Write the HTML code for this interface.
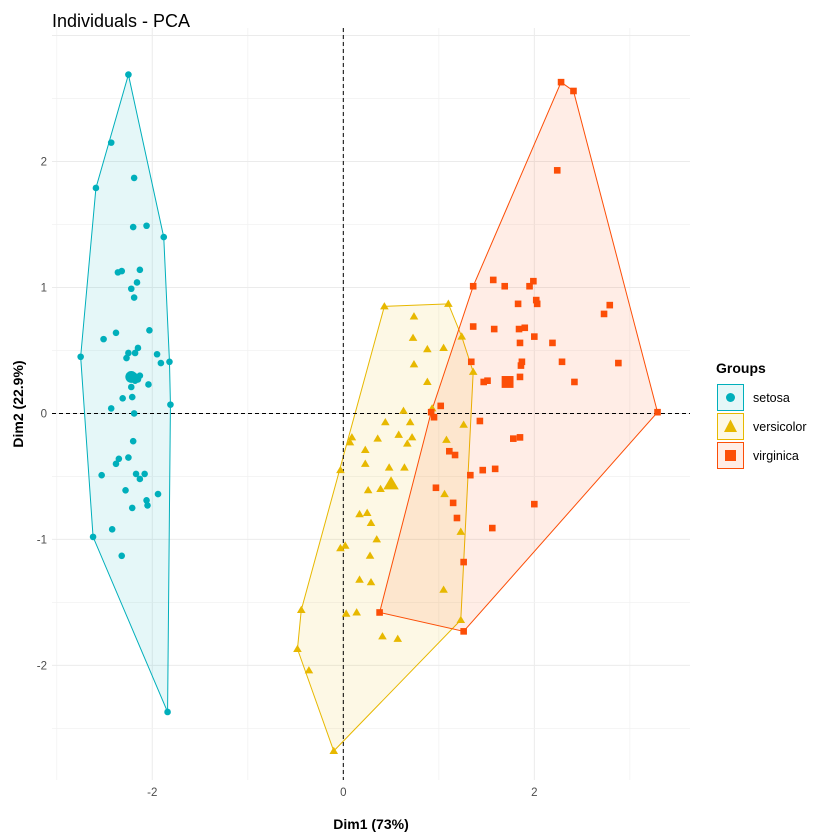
<!DOCTYPE html>
<html><head><meta charset="utf-8"><style>
body{margin:0;background:#fff;}
svg{display:block;font-family:"Liberation Sans",Arial,sans-serif;}
</style></head><body>
<svg id="chart" width="840" height="840" viewBox="0 0 840 840" xmlns="http://www.w3.org/2000/svg">
<text x="52" y="27" font-size="18" fill="#000">Individuals - PCA</text>
<g id="grid"></g>
<g id="hulls"></g>
<g id="refs"></g>
<g id="points"></g>
<g id="axes"></g>
<text x="371" y="829" font-size="14" font-weight="bold" text-anchor="middle">Dim1 (73%)</text>
<text transform="translate(23,404) rotate(-90)" font-size="14" font-weight="bold" text-anchor="middle">Dim2 (22.9%)</text>
<g>
<text x="716" y="373" font-size="14" font-weight="bold">Groups</text>
<g>
<rect x="717.5" y="384.5" width="26" height="26" fill="#00AFBB" fill-opacity="0.1" stroke="#00AFBB"/>
<circle cx="730.5" cy="397.5" r="4.5" fill="#00AFBB"/>
<text x="753" y="402" font-size="12.5" fill="#000">setosa</text></g>
<g>
<rect x="717.5" y="413.5" width="26" height="26" fill="#E7B800" fill-opacity="0.1" stroke="#E7B800"/>
<polygon points="730.5,419.5 737,432 724,432" fill="#E7B800"/>
<text x="753" y="431" font-size="12.5" fill="#000">versicolor</text></g>
<g>
<rect x="717.5" y="442.5" width="26" height="26" fill="#FC4E07" fill-opacity="0.1" stroke="#FC4E07"/>
<rect x="725" y="450" width="11" height="11" fill="#FC4E07"/>
<text x="753" y="460" font-size="12.5" fill="#000">virginica</text></g>
</g>
</svg>
<script>
const setosaX=[-2.25,-2.43,-2.19,-2.59,-2.20,-2.06,-1.88,-2.36,-2.32,-2.13,-2.16,-2.22,-2.19,-2.38,-2.51,-2.03,-2.75,-2.25,-2.27,-2.15,-2.18,-1.95,-1.91,-1.82,-2.23,-2.19,-2.15,-2.13,-2.18,-2.22,-2.04,-2.31,-2.21,-2.43,-1.81,-2.19,-2.20,-2.38,-2.35,-2.25,-2.53,-2.17,-2.13,-2.08,-2.28,-1.94,-2.06,-2.05,-2.21,-2.42,-2.62,-2.32,-1.84];
const setosaY=[2.69,2.15,1.87,1.79,1.48,1.49,1.40,1.12,1.13,1.14,1.04,0.99,0.92,0.64,0.59,0.66,0.45,0.48,0.44,0.52,0.48,0.47,0.40,0.41,0.29,0.30,0.27,0.30,0.26,0.21,0.23,0.12,0.13,0.04,0.07,0.00,-0.22,-0.40,-0.36,-0.35,-0.49,-0.48,-0.52,-0.48,-0.61,-0.64,-0.69,-0.73,-0.75,-0.92,-0.98,-1.13,-2.37];
const versiX=[0.43,1.10,0.74,0.73,0.88,1.05,1.24,0.74,1.36,0.88,0.63,0.93,0.44,0.70,1.26,0.09,0.07,0.36,0.58,0.72,0.67,1.08,0.23,0.23,0.48,0.64,-0.03,0.26,0.39,1.06,0.17,0.25,0.29,0.35,-0.03,0.02,0.28,1.23,0.17,0.29,1.05,-0.44,0.03,0.14,1.23,0.41,0.57,-0.48,-0.36,-0.10];
const versiY=[0.85,0.87,0.77,0.60,0.51,0.52,0.61,0.39,0.33,0.25,0.02,0.04,-0.07,-0.07,-0.09,-0.19,-0.23,-0.20,-0.17,-0.19,-0.24,-0.21,-0.29,-0.40,-0.43,-0.43,-0.45,-0.61,-0.60,-0.64,-0.80,-0.79,-0.87,-1.00,-1.07,-1.05,-1.13,-0.94,-1.32,-1.34,-1.40,-1.56,-1.59,-1.58,-1.64,-1.77,-1.79,-1.87,-2.04,-2.68];
const virgX=[2.28,2.41,2.24,1.57,1.36,1.69,1.95,1.99,1.83,2.02,2.03,2.79,2.73,1.36,1.58,1.84,1.90,2.00,1.85,2.19,1.34,1.87,1.86,2.29,2.88,1.47,1.51,1.85,2.42,1.02,0.92,0.95,3.29,1.43,1.78,1.85,1.11,1.17,1.59,1.46,1.33,0.97,1.15,2.00,1.19,1.56,1.26,1.26,0.38];
const virgY=[2.63,2.56,1.93,1.06,1.01,1.01,1.01,1.05,0.87,0.90,0.87,0.86,0.79,0.69,0.67,0.67,0.68,0.61,0.56,0.56,0.41,0.41,0.38,0.41,0.40,0.25,0.26,0.29,0.25,0.06,0.01,-0.03,0.01,-0.06,-0.20,-0.19,-0.30,-0.33,-0.44,-0.45,-0.49,-0.59,-0.71,-0.72,-0.83,-0.91,-1.18,-1.73,-1.58];
const centroidX=[-2.22,0.50,1.72];
const centroidY=[0.29,-0.56,0.25];
const groupNames=["setosa","versicolor","virginica"];
const xTicks=[-2,0,2];
const yTicks=[-2,-1,0,1,2];

const NS="http://www.w3.org/2000/svg";
const X0=52,X1=690,Y0=28,Y1=780;
const xMin=-3.05,xMax=3.63,yMin=-2.91,yMax=3.06;
const sx=v=>X0+(v-xMin)/(xMax-xMin)*(X1-X0);
const sy=v=>Y1-(v-yMin)/(yMax-yMin)*(Y1-Y0);
const colors=["#00AFBB","#E7B800","#FC4E07"];
function mk(tag,attrs,parent){const e=document.createElementNS(NS,tag);for(const k in attrs)e.setAttribute(k,attrs[k]);parent.appendChild(e);return e;}
const grid=document.getElementById('grid');
for(let v=-3;v<=3.5;v+=0.5){
  const major=Number.isInteger(v)&&v%2===0;const mid=Number.isInteger(v);
  if(!mid)continue;
  const l=mk('line',{x1:sx(v),x2:sx(v),y1:Y0,y2:Y1,stroke:major?'#ebebeb':'#f2f2f2','stroke-width':major?1:0.8},grid);
  
  
}
for(let v=-2.5;v<=3;v+=0.5){
  const major=Number.isInteger(v);
  const l=mk('line',{x1:X0,x2:X1,y1:sy(v),y2:sy(v),stroke:major?'#ebebeb':'#f2f2f2','stroke-width':major?1:0.8},grid);
  
  
}
const axes=document.getElementById('axes');
xTicks.forEach(t=>{const e=mk('text',{x:sx(t),y:Y1+16,'font-size':11.5,fill:'#4d4d4d','text-anchor':'middle'},axes);e.textContent=String(t).replace('-','\u2212').replace('\u2212','-');
  
  });
yTicks.forEach(t=>{const e=mk('text',{x:X0-5,y:sy(t)+4,'font-size':11.5,fill:'#4d4d4d','text-anchor':'end'},axes);e.textContent=String(t);
  
  });
const refs=document.getElementById('refs');
const vl=mk('line',{x1:sx(0),x2:sx(0),y1:Y0,y2:Y1,stroke:'#000','stroke-dasharray':'4,3','stroke-width':1},refs);


const hl=mk('line',{x1:X0,x2:X1,y1:sy(0),y2:sy(0),stroke:'#000','stroke-dasharray':'4,3','stroke-width':1},refs);


function hull(pts){pts=pts.slice().sort((a,b)=>a[0]-b[0]||a[1]-b[1]);const cr=(o,a,b)=>(a[0]-o[0])*(b[1]-o[1])-(a[1]-o[1])*(b[0]-o[0]);
  const lo=[],up=[];for(const p of pts){while(lo.length>=2&&cr(lo[lo.length-2],lo[lo.length-1],p)<=0)lo.pop();lo.push(p);}
  for(let i=pts.length-1;i>=0;i--){const p=pts[i];while(up.length>=2&&cr(up[up.length-2],up[up.length-1],p)<=0)up.pop();up.push(p);}
  up.pop();lo.pop();return lo.concat(up);}
const groups=[[setosaX,setosaY],[versiX,versiY],[virgX,virgY]];
const hg=document.getElementById('hulls'),pg=document.getElementById('points');
groups.forEach((g,gi)=>{
  const pts=g[0].map((x,i)=>[sx(x),sy(g[1][i])]);
  const h=hull(pts);
  const poly=mk('polygon',{points:h.map(p=>p.join(',')).join(' '),fill:colors[gi],'fill-opacity':0.1,stroke:colors[gi],'stroke-width':1},hg);
  
  
});
function marker(gi,x,y,s,parent){let e;
  if(gi===0)e=mk('circle',{cx:x,cy:y,r:3.3*s,fill:colors[0]},parent);
  else if(gi===1)e=mk('polygon',{points:`${x},${y-4.3*s} ${x+4.3*s},${y+3*s} ${x-4.3*s},${y+3*s}`,fill:colors[1]},parent);
  else e=mk('rect',{x:x-3.3*s,y:y-3.3*s,width:6.6*s,height:6.6*s,fill:colors[2]},parent);
  return e;}
groups.forEach((g,gi)=>{g[0].forEach((x,i)=>{const e=marker(gi,sx(x),sy(g[1][i]),1,pg);
  
  });});
centroidX.forEach((x,i)=>{const e=marker(i,sx(x),sy(centroidY[i]),1.8,pg);
  
  });
</script>
</body></html>
